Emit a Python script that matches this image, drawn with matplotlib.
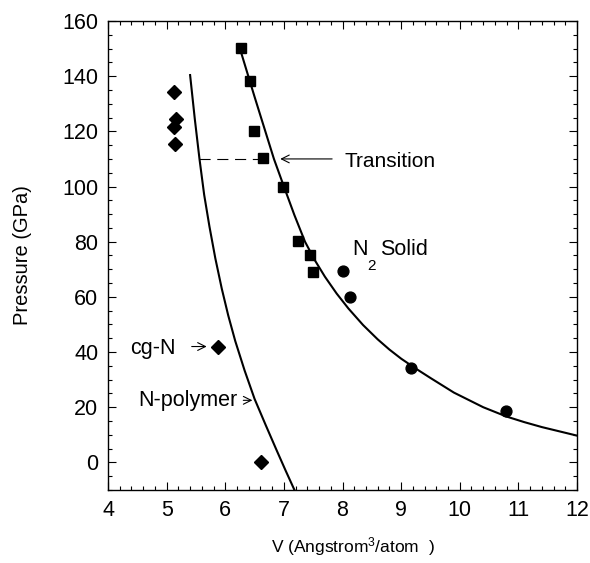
import matplotlib
matplotlib.use("Agg")
import matplotlib.pyplot as plt
from matplotlib.ticker import MultipleLocator

plt.rcParams['font.family'] = ['Liberation Sans', 'DejaVu Sans']
plt.rcParams['mathtext.fontset'] = 'custom'
plt.rcParams['mathtext.rm'] = 'Liberation Sans'
plt.rcParams['mathtext.it'] = 'Liberation Sans'

# datos
v_diamantes = [5.13, 5.16, 5.13, 5.15, 5.88, 6.61]
p_diamantes = [134.4, 124.5, 121.4, 115.3, 42.0, 0.1]

v_cuadrados = [6.27, 6.43, 6.49, 6.65, 6.98, 7.24, 7.44, 7.50]
p_cuadrados = [150.3, 138.4, 120.1, 110.3, 100.0, 80.3, 75.2, 69.0]

v_circulos = [8.00, 8.13, 9.17, 10.79]
p_circulos = [69.2, 60.1, 34.2, 18.5]

# curva N2 solido
v_n2 = [6.25, 6.50, 6.83, 7.00, 7.18, 7.36, 7.53, 7.70, 7.90, 8.10, 8.35, 8.60, 8.80,
        9.00, 9.25, 9.50, 9.90, 10.40, 10.80, 11.10, 11.40, 12.00]
p_n2 = [150.0, 132.5, 110.0, 100.0, 89.6, 80.0, 73.2, 67.3, 61.2, 55.8, 49.8, 44.6, 40.9,
        37.6, 34.0, 30.6, 25.3, 20.0, 16.6, 14.6, 12.8, 9.7]

# curva N-polimero
v_poli = [5.40, 5.48, 5.56, 5.64, 5.73, 5.83, 5.94, 6.05, 6.17, 6.33, 6.50, 6.69, 6.88, 7.03, 7.18]
p_poli = [140.4, 124.5, 110.0, 97.0, 85.5, 74.0, 63.0, 53.3, 44.0, 33.3, 23.0, 13.5, 4.2, -3.0, -10.0]

v_transicion = [5.56, 6.60]
p_transicion = [110, 110]

fig = plt.figure(figsize=(5.9, 5.63), dpi=100)
ax = fig.add_axes([0.1831, 0.1297, 0.7949, 0.8330])

ax.plot(v_n2, p_n2, color='k', linewidth=1.5)
ax.plot(v_poli, p_poli, color='k', linewidth=1.5)
ax.plot(v_transicion, p_transicion, color='k', linewidth=0.8, dashes=(10, 6))

ax.plot(v_diamantes, p_diamantes, 'D', color='k', markersize=7.2, linestyle='none')
ax.plot(v_cuadrados, p_cuadrados, 's', color='k', markersize=6.8, linestyle='none')
ax.plot(v_circulos, p_circulos, 'o', color='k', markersize=7.8, linestyle='none')

flecha = dict(arrowstyle='->', color='k', lw=0.8, mutation_scale=14)
ax.annotate('', xy=(6.89, 110), xytext=(7.87, 110), arrowprops=flecha)
ax.annotate('', xy=(5.73, 42), xytext=(5.38, 42), arrowprops=flecha)
ax.annotate('', xy=(6.51, 22.5), xytext=(6.26, 22.5), arrowprops=flecha)

ax.text(8.04, 107.2, 'Transition', fontsize=15, va='baseline', ha='left')
ax.text(4.375, 39.2, 'cg-N', fontsize=15.5, va='baseline', ha='left')
ax.text(4.52, 20.5, 'N-polymer', fontsize=15.5, va='baseline', ha='left')
ax.text(8.16, 75.2, 'N', fontsize=15.5, va='baseline', ha='left')
ax.text(8.42, 69.8, '2', fontsize=11, va='baseline', ha='left')
ax.text(8.64, 75.2, 'Solid', fontsize=15.5, va='baseline', ha='left')

ax.set_xlim(4, 12)
ax.set_ylim(-10, 160)
ax.xaxis.set_major_locator(MultipleLocator(1))
ax.xaxis.set_minor_locator(MultipleLocator(0.2))
ax.yaxis.set_major_locator(MultipleLocator(20))
ax.yaxis.set_minor_locator(MultipleLocator(5))
ax.tick_params(which='both', direction='in', top=True, right=True, labelsize=15.5, width=0.8)
ax.tick_params(which='major', length=5.8, pad=7)
ax.tick_params(which='minor', length=3.2)
for lado in ax.spines.values():
    lado.set_linewidth(1.0)

ax.set_xlabel('V (Angstrom$^3$/atom  )', fontsize=12.5)
ax.set_ylabel('Pressure (GPa)', fontsize=14.5)
ax.xaxis.set_label_coords(0.5215, -0.096)
ax.yaxis.set_label_coords(-0.162, 0.5)

fig.savefig('out.png', dpi=100)
